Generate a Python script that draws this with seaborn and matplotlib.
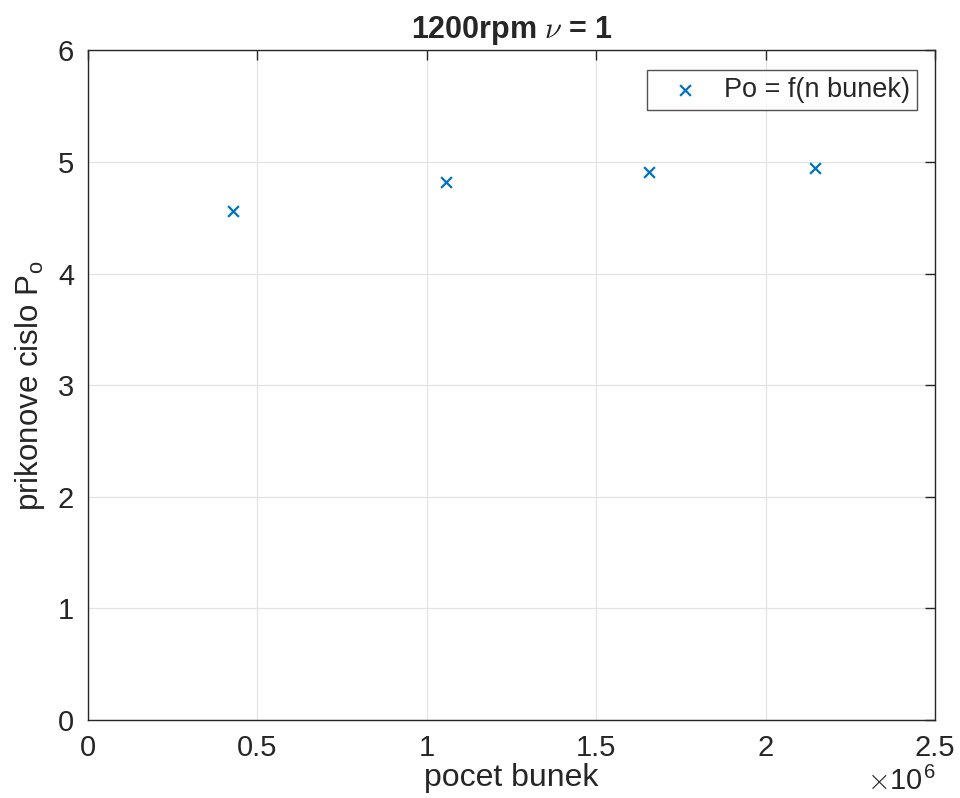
import matplotlib
matplotlib.use("Agg")
import matplotlib.pyplot as plt
import seaborn as sns
import pandas as pd

cells = [0.428e6, 1.057e6, 1.656e6, 2.146e6]
po = [4.558, 4.818, 4.907, 4.943]
xticks = [0, 0.5e6, 1.0e6, 1.5e6, 2.0e6, 2.5e6]
xticklabels = ["0", "0.5", "1", "1.5", "2", "2.5"]
yticks = [0, 1, 2, 3, 4, 5, 6]

sns.set_style("white")
plt.rcParams['font.family'] = ['Liberation Sans', 'DejaVu Sans']
plt.rcParams['mathtext.fontset'] = 'cm'

df = pd.DataFrame({"x": cells, "y": po})

fig = plt.figure(figsize=(9.6, 7.98), dpi=100)
ax = fig.add_axes([0.0917, 0.0977, 0.8823, 0.8393])
sns.scatterplot(data=df, x="x", y="y", marker="x", color="#0072BD", s=60,
                linewidth=1.6, ax=ax, label="Po = f(n bunek)", zorder=3)

ax.set_xlim(0, 2.5e6)
ax.set_ylim(0, 6)
ax.set_xticks(xticks)
ax.set_xticklabels(xticklabels)
ax.set_yticks(yticks)
ax.grid(True, color="#e3e3e3", linewidth=0.9)
ax.set_axisbelow(True)
for sp in ax.spines.values():
    sp.set_color("#262626")
    sp.set_linewidth(1.0)
ax.tick_params(direction="in", length=7, width=1.0, colors="#262626",
               labelsize=21, top=True, right=True, pad=10)
for lab in ax.get_xticklabels() + ax.get_yticklabels():
    lab.set_color("#262626")

ax.set_xlabel("pocet bunek", fontsize=23, color="#262626", labelpad=1)
ax.set_ylabel(r"prikonove cislo P$_{\mathregular{o}}$", fontsize=22.5, color="#262626", labelpad=8)
ax.set_title(r"1200rpm $\nu$ = 1", fontsize=22, fontweight="bold", pad=9)

fig.text(0.903, 0.003, r"$\times$10$^{\mathregular{6}}$", fontsize=21, color="#262626",
         va="bottom")

leg = ax.legend(loc="upper right", bbox_to_anchor=(0.979, 0.970), fontsize=19.5,
                frameon=True, fancybox=False, edgecolor="#262626", borderpad=0.25,
                handletextpad=0.3, handlelength=2.3, borderaxespad=0.0,
                markerscale=1.0)
leg.get_frame().set_linewidth(1.0)

fig.savefig("out.png", dpi=100)
